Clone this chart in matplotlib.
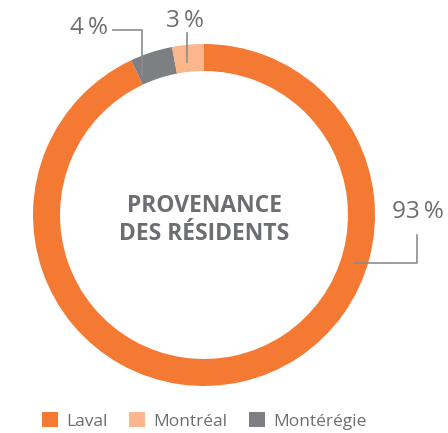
import matplotlib
matplotlib.use("Agg")
import matplotlib.pyplot as plt
from matplotlib.patches import Patch

# data (legend order)
categories = ["Laval", "Montréal", "Montérégie"]
values = [93, 3, 4]
colors = ["#F47A33", "#FBB68B", "#7E7F83"]
pct_labels = ["93\u2009%", "3\u2009%", "4\u2009%"]
title_lines = ["PROVENANCE", "DES RÉSIDENTS"]

TEXT = "#6D6E71"
LINE = "#8C8C8C"
FAM = ["Open Sans", "DejaVu Sans"]

W, H = 448, 433
fig = plt.figure(figsize=(W / 100, H / 100), dpi=100)
cx, cy, R = 204, 215, 171
ax = fig.add_axes([(cx - R) / W, 1 - (cy + R) / H, 2 * R / W, 2 * R / H])

# clockwise from 12 o'clock: Laval, Montérégie, Montréal
order = [0, 2, 1]
ax.pie([values[i] for i in order], colors=[colors[i] for i in order],
       startangle=90, counterclock=False, radius=1.0,
       wedgeprops=dict(width=0.158, edgecolor="none", linewidth=0))
ax.set_xlim(-1, 1)
ax.set_ylim(-1, 1)
ax.set_aspect("equal")
ax.axis("off")

ax.text(0, 0.055, title_lines[0], ha="center", va="center", fontsize=16.5,
        fontweight="bold", color=TEXT, family=FAM)
ax.text(0, -0.11, title_lines[1], ha="center", va="center", fontsize=16.5,
        fontweight="bold", color=TEXT, family=FAM)

# callouts
lw = 1.2
pfs = 17.5
ax.plot([0.877, 1.246, 1.246], [-0.281, -0.281, -0.117], color=LINE, lw=lw, clip_on=False)
ax.text(1.253, 0.02, pct_labels[0], ha="center", va="center", fontsize=pfs,
        color=TEXT, family=FAM, clip_on=False)

ax.plot([-0.099, -0.099], [0.895, 1.064], color=LINE, lw=lw, clip_on=False)
ax.text(-0.11, 1.135, pct_labels[1], ha="center", va="center", fontsize=pfs,
        color=TEXT, family=FAM, clip_on=False)

ax.plot([-0.532, -0.363, -0.363], [1.082, 1.082, 0.819], color=LINE, lw=lw, clip_on=False)
ax.text(-0.675, 1.095, pct_labels[2], ha="center", va="center", fontsize=pfs,
        color=TEXT, family=FAM, clip_on=False)

handles = [Patch(facecolor=c, edgecolor="none") for c in colors]
leg = fig.legend(handles, categories, loc="center", bbox_to_anchor=(0.456, 1 - 421 / H),
                 ncol=3, frameon=False, handlelength=0.92, handleheight=0.92,
                 handletextpad=0.5, columnspacing=1.2,
                 prop={"family": FAM, "size": 12.5})
for t in leg.get_texts():
    t.set_color(TEXT)

fig.savefig("out.png", dpi=100)
